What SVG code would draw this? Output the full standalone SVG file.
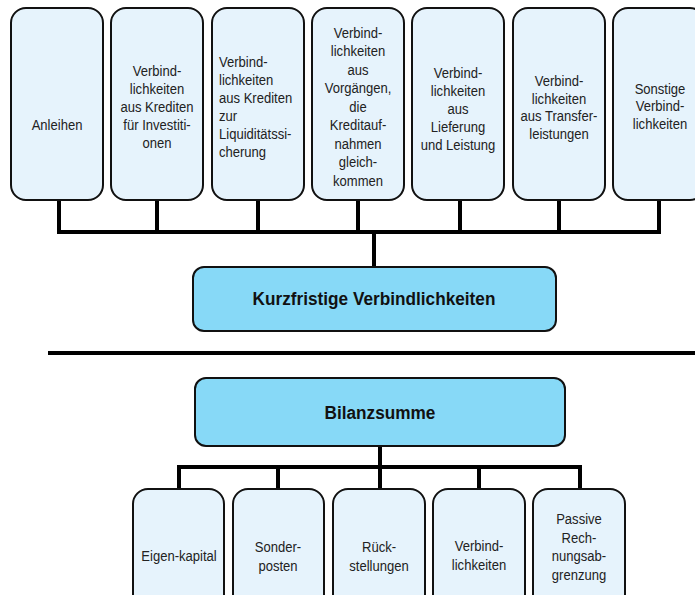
<svg xmlns="http://www.w3.org/2000/svg" width="695" height="595" viewBox="0 0 695 595">
<style>
.sb{fill:#e6f3fc;stroke:#111;stroke-width:2}
.mb{fill:#87d9f7;stroke:#111;stroke-width:2}
.t{font-family:"Liberation Sans",Arial,sans-serif;font-size:14.5px;fill:#222;text-anchor:middle}
.tl{text-anchor:start}
.bt{font-family:"Liberation Sans",Arial,sans-serif;font-size:18.5px;font-weight:bold;fill:#111;text-anchor:middle}
.c{fill:none;stroke:#000;stroke-width:4;stroke-linejoin:miter;stroke-linecap:square}
</style>
<rect width="695" height="595" fill="#fff"/>
<g id="connectors">
<path class="c" d="M59 200V232M157 200V232M258 200V232M358 200V232M460 200V232M559 200V232M659 200V232M59 232H659M374 232V267"/>
<path class="c" d="M380 446V467M179 467H580M179 467V489M278 467V489M380 467V489M479 467V489M580 467V489"/>
<path class="c" d="M50 353H697" stroke-linecap="butt"/>
</g>
<g id="anleihen"><rect class="sb" x="11" y="8" width="92" height="192" rx="15"/><g transform="translate(57 0) scale(0.9 1)"><text class="t" x="0" y="130">Anleihen</text></g></g>
<g id="kredite-investition"><rect class="sb" x="111" y="8" width="92" height="192" rx="15"/><g transform="translate(157 0) scale(0.9 1)"><text class="t" x="0" y="76"><tspan x="0">Verbind-</tspan><tspan x="0" dy="18">lichkeiten</tspan><tspan x="0" dy="18">aus Krediten</tspan><tspan x="0" dy="18">für Investiti-</tspan><tspan x="0" dy="18">onen</tspan></text></g></g>
<g id="kredite-liquiditaet"><rect class="sb" x="212" y="8" width="92" height="192" rx="15"/><g transform="translate(219 0) scale(0.9 1)"><text class="t tl" x="0" y="67"><tspan x="0">Verbind-</tspan><tspan x="0" dy="18">lichkeiten</tspan><tspan x="0" dy="18">aus Krediten</tspan><tspan x="0" dy="18">zur</tspan><tspan x="0" dy="18">Liquiditätssi-</tspan><tspan x="0" dy="18">cherung</tspan></text></g></g>
<g id="vorgaenge"><rect class="sb" x="312" y="8" width="92" height="192" rx="15"/><g transform="translate(358 0) scale(0.9 1)"><text class="t" x="0" y="38"><tspan x="0">Verbind-</tspan><tspan x="0" dy="18.5">lichkeiten</tspan><tspan x="0" dy="18.5">aus</tspan><tspan x="0" dy="18.5">Vorgängen,</tspan><tspan x="0" dy="18.5">die</tspan><tspan x="0" dy="18.5">Kreditauf-</tspan><tspan x="0" dy="18.5">nahmen</tspan><tspan x="0" dy="18.5">gleich-</tspan><tspan x="0" dy="18.5">kommen</tspan></text></g></g>
<g id="lieferung"><rect class="sb" x="412" y="8" width="92" height="192" rx="15"/><g transform="translate(458 0) scale(0.9 1)"><text class="t" x="0" y="78"><tspan x="0">Verbind-</tspan><tspan x="0" dy="18">lichkeiten</tspan><tspan x="0" dy="18">aus</tspan><tspan x="0" dy="18">Lieferung</tspan><tspan x="0" dy="18">und Leistung</tspan></text></g></g>
<g id="transfer"><rect class="sb" x="513" y="8" width="92" height="192" rx="15"/><g transform="translate(559 0) scale(0.9 1)"><text class="t" x="0" y="86"><tspan x="0">Verbind-</tspan><tspan x="0" dy="17.7">lichkeiten</tspan><tspan x="0" dy="17.7">aus Transfer-</tspan><tspan x="0" dy="17.7">leistungen</tspan></text></g></g>
<g id="sonstige"><rect class="sb" x="613" y="8" width="92" height="192" rx="15"/><g transform="translate(660 0) scale(0.9 1)"><text class="t" x="0" y="94"><tspan x="0">Sonstige</tspan><tspan x="0" dy="17.5">Verbind-</tspan><tspan x="0" dy="17.5">lichkeiten</tspan></text></g></g>
<g id="kurzfristig"><rect class="mb" x="193" y="267" width="363" height="64" rx="11"/><g transform="translate(374 0) scale(0.93 1)"><text class="bt" x="0" y="305">Kurzfristige Verbindlichkeiten</text></g></g>
<g id="bilanzsumme"><rect class="mb" x="195" y="378" width="370" height="68" rx="11"/><g transform="translate(380 0) scale(0.93 1)"><text class="bt" x="0" y="419">Bilanzsumme</text></g></g>
<g id="eigenkapital"><rect class="sb" x="133" y="489" width="91" height="130" rx="15"/><g transform="translate(179 0) scale(0.9 1)"><text class="t" x="0" y="561">Eigen-kapital</text></g></g>
<g id="sonderposten"><rect class="sb" x="233" y="489" width="91" height="130" rx="15"/><g transform="translate(278 0) scale(0.9 1)"><text class="t" x="0" y="552"><tspan x="0">Sonder-</tspan><tspan x="0" dy="19">posten</tspan></text></g></g>
<g id="rueckstellungen"><rect class="sb" x="333" y="489" width="92" height="130" rx="15"/><g transform="translate(379 0) scale(0.9 1)"><text class="t" x="0" y="552"><tspan x="0">Rück-</tspan><tspan x="0" dy="19">stellungen</tspan></text></g></g>
<g id="verbindlichkeiten"><rect class="sb" x="433" y="489" width="92" height="130" rx="15"/><g transform="translate(479 0) scale(0.9 1)"><text class="t" x="0" y="551"><tspan x="0">Verbind-</tspan><tspan x="0" dy="19">lichkeiten</tspan></text></g></g>
<g id="rechnungsabgrenzung"><rect class="sb" x="533" y="489" width="92" height="130" rx="15"/><g transform="translate(579 0) scale(0.9 1)"><text class="t" x="0" y="524"><tspan x="0">Passive</tspan><tspan x="0" dy="18.7">Rech-</tspan><tspan x="0" dy="18.7">nungsab-</tspan><tspan x="0" dy="18.7">grenzung</tspan></text></g></g>
</svg>
